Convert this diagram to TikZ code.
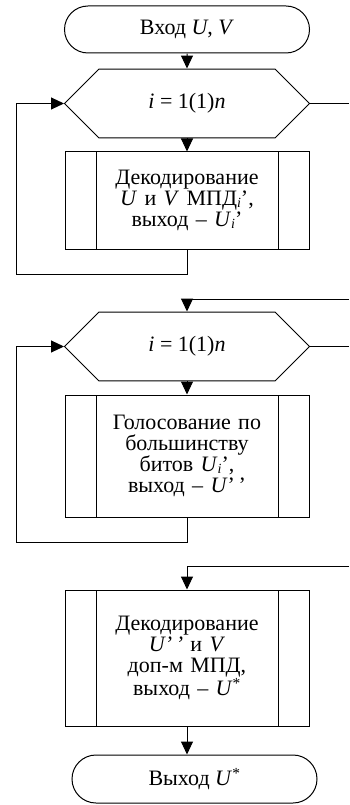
\documentclass[tikz,border=0pt]{standalone}
\usepackage{fontspec}
\setmainfont{Liberation Serif}
\usepackage{tikz}
\usetikzlibrary{arrows.meta, positioning, shapes.misc}
\newcommand\idx[1]{\raisebox{-2pt}{\fontsize{14pt}{14pt}\selectfont\textit{#1}}}
\tikzset{%
	term/.style={
		rounded rectangle,
		draw,
		minimum width=245pt,
		minimum height=47pt,
		inner sep=0pt
	},
	loopcond/.style={
		chamfered rectangle,
		draw,
		minimum width=245pt,
		minimum height=49pt,
		chamfered rectangle xsep=50pt,
		chamfered rectangle ysep=24.5pt,
		inner sep=0pt
	},
	subproc/.style={
		rectangle,
		draw,
		minimum width=244pt,
		text width=180pt,
		align=center,
		inner sep=0pt,
		path picture={
			\draw ([xshift=31pt]path picture bounding box.north west) -- ([xshift=31pt]path picture bounding box.south west)
			([xshift=-31pt]path picture bounding box.north east) -- ([xshift=-31pt]path picture bounding box.south east);
		}
	},
}

\begin{document}
\begin{tikzpicture}[
				x=1pt, y=-1pt,
				line width=1pt,
				every node/.style={font=\fontsize{22pt}{21pt}\selectfont},
				flow/.style={-{Triangle[length=13pt, width=12pt]}}
				]
				\useasboundingbox (0,0) rectangle (349,805);
				
				% Nodes of the scheme
				\node[term] (start) at (187,29.5) {Вход \textit{U}, \textit{V}};
				\node[loopcond] (cyc1) at (187,103.5) {\textit{i} = 1(1)\textit{n}};
				\node[subproc, minimum height=97pt] (dec1) at (187,200.5) {Декодирование\\ \textit{U} и \textit{V} МПД\idx{i}’,\\ выход – \textit{U}\idx{i}’};
				\node[loopcond] (cyc2) at (187,346.5) {\textit{i} = 1(1)\textit{n}};
				\node[subproc, minimum height=122pt] (vote) at (187,456) {Голосование по\\ большинству\\ битов \textit{U}\idx{i}’,\\ выход – \textit{U}’\,’};
				\node[subproc, minimum height=136pt] (dec2) at (187,658) {Декодирование\\ \textit{U’\,’} и \textit{V}\\ доп-м МПД,\\ выход – \textit{U}\textsuperscript{*}};
				\node[term, minimum height=48pt] (stop) at (194.5,779) {Выход \textit{U}\textsuperscript{*}};
				
				\coordinate (back1) at (16,274);
				\coordinate (back2) at (16,542);
				\coordinate (in2) at (349,299);
				\coordinate (in3) at (349,566);
				
				% Connectors
				\draw[flow] (start) -- (cyc1);
				\draw[flow] (cyc1) -- (dec1);
				\draw[flow] (dec1.south) |- (back1) |- (cyc1.west);
				\draw (cyc1.east) -- (cyc1.east -| in2);
				\draw[flow] (in2) -| (cyc2.north);
				\draw[flow] (cyc2) -- (vote);
				\draw[flow] (vote.south) |- (back2) |- (cyc2.west);
				\draw (cyc2.east) -- (cyc2.east -| in2);
				\draw[flow] (in3) -| (dec2.north);
				\draw[flow] (dec2.south) -- (dec2.south |- stop.north);
				
			\end{tikzpicture}
\end{document}
